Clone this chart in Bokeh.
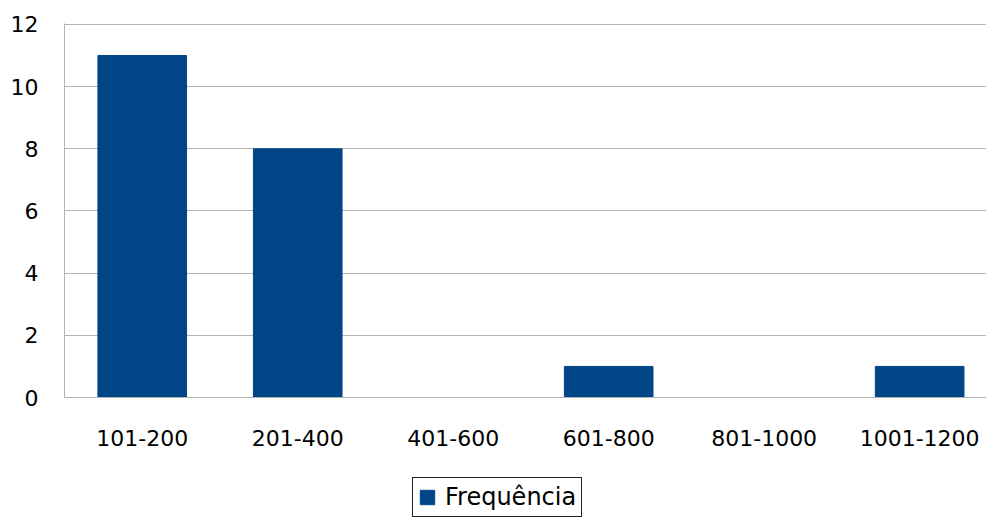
from bokeh.plotting import figure
from bokeh.layouts import column
from bokeh.models import (ColumnDataSource, Range1d, FixedTicker, Legend, LegendItem)
from bokeh.embed import file_html
from bokeh.resources import INLINE

# Frequency of observations per class interval
categories = ["101-200", "201-400", "401-600", "601-800", "801-1000", "1001-1200"]
frequencies = [11, 8, 0, 1, 0, 1]
y_ticks = [0, 2, 4, 6, 8, 10, 12]
series_name = "Frequência"

positions = [i + 0.5 for i in range(len(categories))]
source = ColumnDataSource(dict(x=positions, top=frequencies, label=categories))

BAR_COLOR = "#004586"
GRID_COLOR = "#b3b3b3"
FONT = "DejaVu Sans"

MAIN_H = 455
p = figure(
    width=986, height=MAIN_H,
    x_range=Range1d(0, 5.93), y_range=Range1d(0, 12.03),
    output_backend="svg", toolbar_location=None,
    min_border_left=64, min_border_top=23, min_border_right=0,
    min_border_bottom=MAIN_H - 397,
)
p.outline_line_color = None
p.background_fill_color = "white"
p.border_fill_color = "white"

bars = p.vbar(x="x", top="top", width=0.57, bottom=0, source=source,
              fill_color=BAR_COLOR, line_color=BAR_COLOR)

# x axis: one tick per class interval
p.xaxis.ticker = FixedTicker(ticks=positions)
p.xaxis.major_label_overrides = {pos: lab for pos, lab in zip(positions, categories)}
p.xaxis.major_tick_line_color = None
p.xaxis.minor_tick_line_color = None
p.xaxis.axis_line_color = GRID_COLOR
p.xaxis.major_label_standoff = 26
p.xaxis.major_label_text_font = FONT
p.xaxis.major_label_text_font_size = "22px"
p.xaxis.major_label_text_color = "black"

p.yaxis.ticker = FixedTicker(ticks=y_ticks)
p.yaxis.major_tick_line_color = None
p.yaxis.minor_tick_line_color = None
p.yaxis.axis_line_color = GRID_COLOR
p.yaxis.major_label_standoff = 20
p.yaxis.major_label_text_font = FONT
p.yaxis.major_label_text_font_size = "22px"
p.yaxis.major_label_text_color = "black"

p.xgrid.grid_line_color = None
p.ygrid.grid_line_color = GRID_COLOR

# Legend strip below the chart (its frame is aligned with the chart frame)
leg_fig = figure(
    width=986, height=518 - MAIN_H,
    x_range=Range1d(0, 1), y_range=Range1d(0, 1),
    x_axis_type=None, y_axis_type=None,
    output_backend="svg", toolbar_location=None,
    min_border=0,
)
leg_fig.outline_line_color = None
leg_fig.grid.visible = False
# swatch renderer kept outside the visible range; only its legend glyph shows
swatch = leg_fig.vbar(x=[-10], top=[-10], width=0.5,
                      fill_color=BAR_COLOR, line_color=BAR_COLOR)

legend = Legend(
    items=[LegendItem(label=series_name, renderers=[swatch])],
    location=(348, 1),
    orientation="horizontal",
    padding=5, margin=0, spacing=0,
    glyph_width=18, glyph_height=18, label_standoff=9,
    label_text_font=FONT, label_text_font_size="24px",
    label_text_color="black",
    border_line_color="#222222", border_line_width=1, border_line_alpha=1,
    background_fill_color="white", background_fill_alpha=1,
)
leg_fig.add_layout(legend, "center")

layout = column(p, leg_fig, spacing=0)
open("out.html", "w").write(file_html(layout, INLINE))
